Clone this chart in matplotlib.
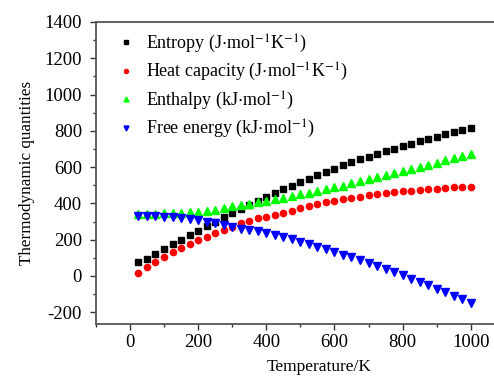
import matplotlib
matplotlib.use('Agg')
import matplotlib.pyplot as plt
from matplotlib.ticker import MultipleLocator

plt.rcParams['font.family'] = 'Liberation Serif'
plt.rcParams['mathtext.fontset'] = 'stix'
plt.rcParams['axes.unicode_minus'] = False

# temperature, K
temp = [25, 50, 75, 100, 125, 150, 175, 200, 225, 250,
        275, 300, 325, 350, 375, 400, 425, 450, 475, 500,
        525, 550, 575, 600, 625, 650, 675, 700, 725, 750,
        775, 800, 825, 850, 875, 900, 925, 950, 975, 1000]

entropy = [78, 96, 122, 148, 174, 200, 225, 250, 275, 300,
           324, 347, 370, 392, 414, 436, 457, 478, 498, 518,
           537, 556, 574, 592, 609, 626, 642, 658, 673, 688,
           702, 716, 729, 742, 755, 768, 780, 792, 804, 815]

heat_cap = [18, 47, 78, 105, 133, 155, 178, 198, 217, 235,
            252, 272, 290, 305, 317, 327, 338, 348, 360, 372,
            385, 397, 406, 415, 423, 430, 437, 444, 450, 456,
            461, 466, 470, 474, 478, 481, 485, 488, 490, 492]

enthalpy = [342, 343, 344, 345, 346, 348, 351, 355, 360, 366,
            376, 385, 392, 398, 406, 414, 423, 432, 441, 450,
            459, 469, 478, 488, 498, 510, 521, 533, 545, 556,
            567, 578, 589, 601, 613, 625, 637, 649, 661, 673]

free_energy = [332, 331, 329, 327, 324, 320, 315, 308, 300, 291,
               280, 270, 261, 254, 247, 238, 228, 216, 202, 188,
               175, 161, 147, 133, 118, 102, 87, 70, 54, 38,
               21, 3, -16, -34, -52, -71, -90, -109, -129, -149]

labels = ['Entropy (J$\\cdot$mol$^{-1}$K$^{-1}$)',
          'Heat capacity (J$\\cdot$mol$^{-1}$K$^{-1}$)',
          'Enthalpy (kJ$\\cdot$mol$^{-1}$)',
          'Free energy (kJ$\\cdot$mol$^{-1}$)']

fig = plt.figure(figsize=(4.94, 3.79), dpi=100)
ax = fig.add_axes([0.194, 0.145, 0.828, 0.797])

ax.plot(temp, entropy, 's', color='black', ms=4.5, label=labels[0])
ax.plot(temp, heat_cap, 'o', color='red', ms=4.5, label=labels[1])
ax.plot(temp, enthalpy, '^', color='#00ff00', ms=5.5, label=labels[2])
ax.plot(temp, free_energy, 'v', color='blue', ms=5.5, label=labels[3])

ax.set_xlim(-100, 1100)
ax.set_ylim(-265, 1400)
ax.xaxis.set_major_locator(MultipleLocator(200))
ax.xaxis.set_minor_locator(MultipleLocator(100))
ax.yaxis.set_major_locator(MultipleLocator(200))
ax.yaxis.set_minor_locator(MultipleLocator(100))
ax.tick_params(which='major', direction='out', length=4, width=1, labelsize=13.5,
               colors='#333333', labelcolor='black', pad=3)
ax.tick_params(axis='y', which='major', pad=6)
ax.tick_params(which='minor', direction='out', length=2.5, width=1, colors='#333333')
for s in ax.spines.values():
    s.set_linewidth(1.3)
    s.set_color('#555555')

ax.set_xlabel('Temperature/K', fontsize=12.5)
ax.set_ylabel('Thermodynamic quantities', fontsize=12.3)
ax.yaxis.set_label_coords(-0.148, 0.5)
ax.xaxis.set_label_coords(0.545, -0.115)

ax.legend(loc='upper left', frameon=False, fontsize=13, handlelength=1.0,
          handletextpad=0.6, markerscale=0.65, labelspacing=0.35,
          borderaxespad=0, bbox_to_anchor=(0.035, 0.99))

fig.savefig('out.png', dpi=100)
